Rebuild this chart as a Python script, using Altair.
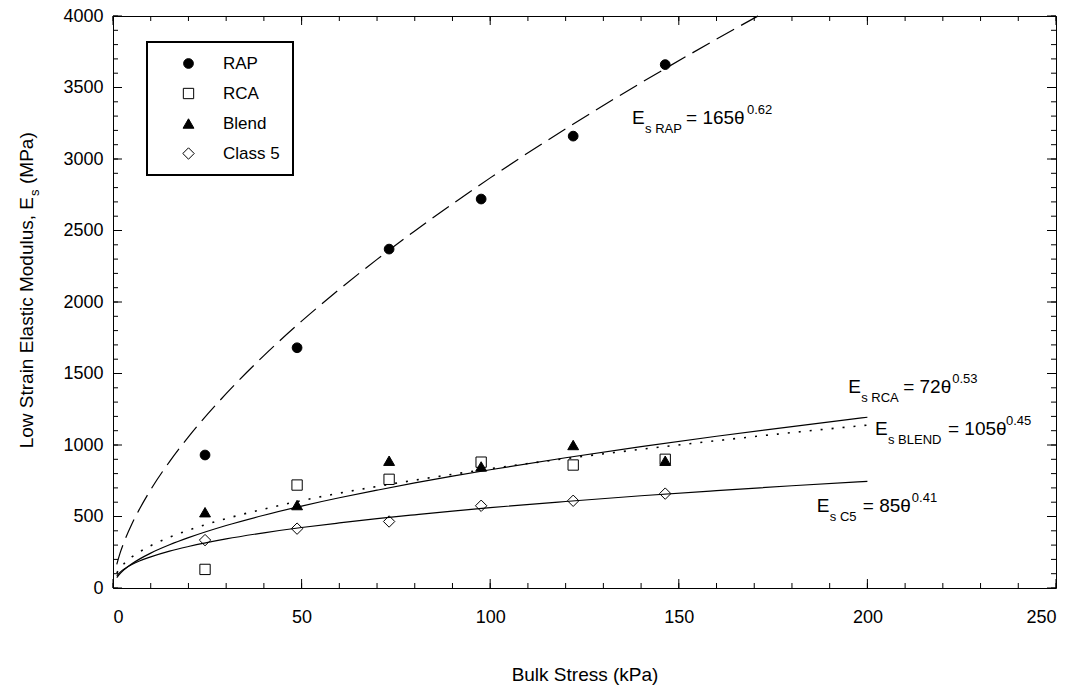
import altair as alt
import pandas as pd

# ---------------- data ----------------
materials = ["RAP", "RCA", "Blend", "Class 5"]
bulk_stress = [24.4, 48.8, 73.2, 97.6, 122.0, 146.4]
rap = [930, 1680, 2370, 2720, 3160, 3660]
rca = [130, 720, 760, 880, 860, 900]
blend = [530, 580, 890, 850, 1000, 890]
class5 = [335, 415, 465, 575, 610, 660]

# fitted power-law curves
fit_theta = [1, 2, 3, 5, 7, 10, 15, 20, 30, 40, 50, 60, 70, 80, 90, 100, 120, 140, 160, 180, 200]
fit_rca = [72, 104, 129, 169, 202, 244, 302, 352, 437, 509, 573, 631, 684, 735, 782, 827, 911, 988, 1061, 1129, 1194]
fit_blend = [105, 143, 172, 217, 252, 296, 355, 404, 485, 552, 611, 663, 710, 754, 795, 834, 905, 970, 1030, 1087, 1139]
fit_c5 = [85, 113, 133, 164, 189, 218, 258, 290, 343, 386, 423, 455, 485, 512, 538, 562, 605, 645, 681, 715, 746]
fit_rap_theta = [1, 2, 3, 5, 7, 10, 15, 20, 30, 40, 50, 60, 70, 80, 90, 100, 120, 140, 160, 171]
fit_rap = [165, 254, 326, 448, 551, 688, 884, 1057, 1359, 1625, 1866, 2089, 2298, 2497, 2686, 2868, 3211, 3533, 3838, 4000]

# equation labels
eq_names = ["RAP", "RCA", "BLEND", "C5"]
eq_coef = ["165", "72", "105", "85"]
eq_exp = ["0.62", "0.53", "0.45", "0.41"]
eq_theta = [137.6, 194.9, 202.0, 186.6]
eq_value = [3245, 1364, 1070, 531]

x_major = [0, 50, 100, 150, 200, 250]
x_minor = list(range(0, 251, 10))
y_major = [0, 500, 1000, 1500, 2000, 2500, 3000, 3500, 4000]
y_minor = list(range(0, 4001, 100))

# ---------------- styling ----------------
FONT = "Liberation Sans"
W, H = 943, 572
eq_dx = [54, 55, 73, 46]
sup_dx = [115, 104, 131, 95]

xs = alt.Scale(domain=[0, 250], nice=False, zero=False)
ys = alt.Scale(domain=[0, 4000], nice=False, zero=False)

XAXIS = alt.Axis(
    orient="bottom", values=x_major, ticks=False, tickSize=0, domain=False, grid=False,
    labelFontSize=18, labelFont=FONT, labelColor="black", labelPadding=34,
    labelBaseline="alphabetic",
    title="Bulk Stress (kPa)", titleFontSize=19, titleFont=FONT, titleFontWeight="normal",
    titleColor="black", titleY=92, titleBaseline="alphabetic")
YAXIS = alt.Axis(
    orient="left", values=y_major, format="d", ticks=False, tickSize=0, domain=False,
    grid=False, labelFontSize=18, labelFont=FONT, labelColor="black", labelPadding=10,
    title=None)


def X(field):
    return alt.X(field, scale=xs, axis=XAXIS)


def Y(field):
    return alt.Y(field, scale=ys, axis=YAXIS)


pts = pd.DataFrame({
    "theta": bulk_stress * 4,
    "value": rap + rca + blend + class5,
    "material": [m for m in materials for _ in bulk_stress],
})

legend = alt.Legend(title=None, orient="none", legendX=34, legendY=26,
                    symbolStrokeColor="black", symbolStrokeWidth=1)

points = alt.Chart(pts).mark_point(filled=True, opacity=1, strokeWidth=1).encode(
    x=X("theta:Q"),
    y=Y("value:Q"),
    shape=alt.Shape("material:N", scale=alt.Scale(domain=materials,
                    range=["circle", "square", "triangle-up", "diamond"]), legend=legend),
    fill=alt.Fill("material:N", scale=alt.Scale(domain=materials,
                  range=["black", "white", "black", "white"]), legend=legend),
    stroke=alt.Stroke("material:N", scale=alt.Scale(domain=materials,
                      range=["black", "black", "black", "black"]), legend=legend),
    size=alt.Size("material:N", scale=alt.Scale(domain=materials, range=[95, 130, 110, 95]),
                  legend=legend),
)


def curve(xv, yv, width, dash=None):
    df = pd.DataFrame({"theta": xv, "value": yv})
    kw = dict(color="black", strokeWidth=width, interpolate="monotone")
    if dash:
        kw["strokeDash"] = dash
    return alt.Chart(df).mark_line(**kw).encode(x=X("theta:Q"), y=Y("value:Q"))


curves = [
    curve(fit_rap_theta, fit_rap, 1.2, [20, 8]),
    curve(fit_theta, fit_rca, 1.2),
    curve(fit_theta, fit_blend, 1.6, [2, 9]),
    curve(fit_theta, fit_c5, 1.2),
]


# inward ticks on all four sides of the frame
def xticks(values, edge_y, length):
    df = pd.DataFrame({"theta": values})
    y2 = edge_y - length if edge_y > 0 else edge_y + length
    return alt.Chart(df).mark_rule(color="black", strokeWidth=1).encode(
        x=X("theta:Q"), y=alt.value(edge_y), y2=alt.value(y2))


def yticks(values, edge_x, length):
    df = pd.DataFrame({"value": values})
    x2 = edge_x - length if edge_x > 0 else edge_x + length
    return alt.Chart(df).mark_rule(color="black", strokeWidth=1).encode(
        y=Y("value:Q"), x=alt.value(edge_x), x2=alt.value(x2))


ticks = [
    xticks(x_minor, H, 5), xticks(x_major, H, 9),
    xticks(x_minor, 0, 5), xticks(x_major, 0, 9),
    yticks(y_minor, 0, 5), yticks(y_major, 0, 9),
    yticks(y_minor, W, 5), yticks(y_major, W, 9),
]

# equation annotations
annots = []
for i in range(len(eq_names)):
    df = pd.DataFrame({"theta": [eq_theta[i]], "value": [eq_value[i]]})
    pieces = [
        ("E", 19, 0, 0),
        ("s " + eq_names[i], 13, 13, 9),
        ("= " + eq_coef[i] + "\u03b8", 19, eq_dx[i], 0),
        (eq_exp[i], 13, sup_dx[i], -10),
    ]
    for txt, fs, dx, dy in pieces:
        annots.append(alt.Chart(df).mark_text(
            text=txt, fontSize=fs, font=FONT, color="black", align="left",
            baseline="alphabetic", dx=dx, dy=dy).encode(x=X("theta:Q"), y=Y("value:Q")))

# y-axis title with subscript
one = pd.DataFrame({"k": [0]})
ytitle = [
    alt.Chart(one).mark_text(text="Low Strain Elastic Modulus, E", angle=270, align="right",
                             baseline="alphabetic", fontSize=19, font=FONT, color="black").encode(
        x=alt.value(-80), y=alt.value(181)),
    alt.Chart(one).mark_text(text="s", angle=270, align="left", baseline="alphabetic",
                             fontSize=13, font=FONT, color="black").encode(
        x=alt.value(-74), y=alt.value(180)),
    alt.Chart(one).mark_text(text="(MPa)", angle=270, align="left", baseline="alphabetic",
                             fontSize=19, font=FONT, color="black").encode(
        x=alt.value(-80), y=alt.value(168)),
]

chart = alt.layer(points, *ticks, *curves, *annots, *ytitle).properties(
    width=W, height=H,
    padding={"left": 113, "top": 16, "right": 21, "bottom": 102},
    autosize=alt.AutoSizeParams(type="none"),
).configure_view(
    stroke="black", strokeWidth=1
).configure_legend(
    strokeColor="black", strokeWidth=2, fillColor="white", padding=13,
    rowPadding=12, symbolOffset=20, labelOffset=26, labelFontSize=17, labelFont=FONT,
    labelColor="black", cornerRadius=0,
)

chart.save("out.html", embed_options={"renderer": "svg", "actions": False})
